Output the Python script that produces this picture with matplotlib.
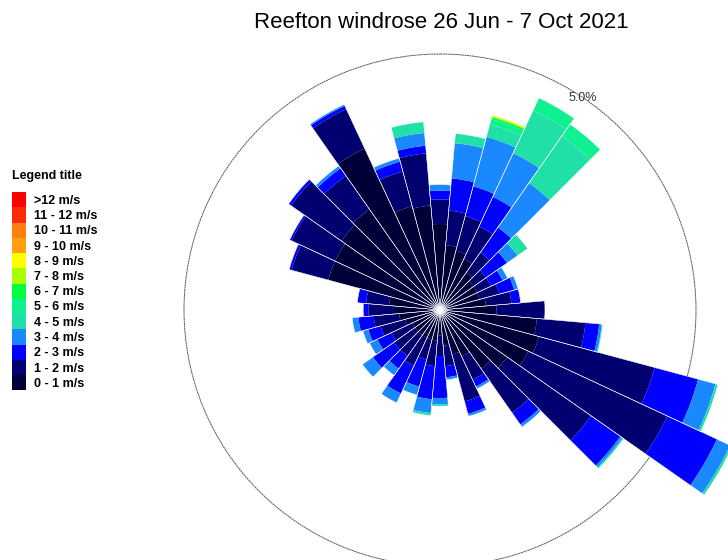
import numpy as np
import matplotlib
matplotlib.use('Agg')
import matplotlib.pyplot as plt
from matplotlib.patches import Patch

plt.rcParams['font.family'] = ['Liberation Sans', 'DejaVu Sans']

# wind directions (deg, from north, clockwise), 10 degree sectors
directions = np.arange(0, 360, 10)

# frequency (% of time) in each speed bin, per direction
s0_1 = [1.68, 1.27, 1.20, 1.10, 0.90, 0.80, 0.80, 0.80, 0.90, 1.10, 1.90, 2.00,
        1.90, 1.60, 1.40, 1.00, 0.90, 0.70, 0.50, 0.60, 0.60, 0.60, 0.60, 0.60,
        0.60, 0.70, 0.80, 0.90, 1.00, 2.26, 2.26, 2.35, 2.40, 3.48, 2.10, 2.05]
s1_2 = [0.48, 0.68, 0.70, 0.70, 0.47, 0.30, 0.30, 0.40, 0.50, 0.95, 0.95, 2.34,
        3.00, 2.00, 1.05, 0.50, 0.95, 0.40, 0.40, 0.50, 0.40, 0.60, 0.50, 0.50,
        0.45, 0.50, 0.50, 0.50, 0.45, 0.74, 0.94, 1.20, 0.80, 0.85, 0.70, 1.02]
s2_3 = [0.17, 0.63, 0.60, 0.64, 0.60, 0.50, 0.25, 0.30, 0.18, 0.00, 0.27, 0.88,
        1.07, 0.70, 0.28, 0.15, 0.25, 0.22, 0.82, 0.65, 0.55, 0.60, 0.30, 0.50,
        0.30, 0.25, 0.30, 0.10, 0.17, 0.05, 0.04, 0.06, 0.18, 0.07, 0.20, 0.15]
s3_4 = [0.12, 0.69, 1.00, 0.94, 1.06, 0.25, 0.11, 0.08, 0.00, 0.00, 0.05, 0.35,
        0.28, 0.05, 0.06, 0.05, 0.05, 0.05, 0.12, 0.27, 0.17, 0.20, 0.16, 0.25,
        0.17, 0.11, 0.12, 0.00, 0.00, 0.00, 0.00, 0.00, 0.06, 0.03, 0.07, 0.25]
s4_5 = [0.00, 0.19, 0.25, 0.92, 1.12, 0.24, 0.00, 0.00, 0.00, 0.00, 0.02, 0.05,
        0.05, 0.03, 0.00, 0.00, 0.00, 0.00, 0.04, 0.05, 0.00, 0.00, 0.00, 0.00,
        0.00, 0.00, 0.00, 0.00, 0.00, 0.00, 0.00, 0.00, 0.00, 0.00, 0.00, 0.22]
s5_6 = [0, 0, 0.11, 0.27, 0.28] + [0] * 31
s6_7 = [0, 0, 0.04] + [0] * 33
s7_8 = [0, 0, 0.02] + [0] * 33
s8_9 = [0, 0, 0.02] + [0] * 33

speed_bins = [s0_1, s1_2, s2_3, s3_4, s4_5, s5_6, s6_7, s7_8, s8_9]

# legend, top to bottom
legend_labels = ['>12 m/s', '11 - 12 m/s', '10 - 11 m/s', '9 - 10 m/s',
                 '8 - 9 m/s', '7 - 8 m/s', '6 - 7 m/s', '5 - 6 m/s',
                 '4 - 5 m/s', '3 - 4 m/s', '2 - 3 m/s', '1 - 2 m/s', '0 - 1 m/s']
legend_colors = ['#ff0000', '#ff2a0a', '#ff7f10', '#ffa010', '#ffff00',
                 '#a8ff00', '#00ff40', '#10f090', '#20e0a8', '#1a88ff',
                 '#0000ff', '#000070', '#000038']
bin_colors = legend_colors[::-1]

fig = plt.figure(figsize=(7.28, 5.6), dpi=100)
ax = fig.add_axes([184 / 728, (560 - 310 - 256) / 560, 512 / 728, 512 / 560],
                  projection='polar')
ax.set_theta_zero_location('N')
ax.set_theta_direction(-1)

theta = np.radians(directions)
bottom = np.zeros(len(directions))
for vals, col in zip(speed_bins, bin_colors):
    vals = np.array(vals)
    ax.bar(theta, vals, width=np.radians(10), bottom=bottom, color=col,
           edgecolor='none', linewidth=0, clip_on=False, zorder=3)
    bottom += vals
# thin white spokes between the sectors
ax.bar(theta, bottom, width=np.radians(10), bottom=0, color='none',
       edgecolor='white', linewidth=0.35, clip_on=False, zorder=4)

ax.set_ylim(0, 5)
ax.grid(False)
ax.set_xticks([])
ax.set_yticks([])
ax.spines['polar'].set_color('#555555')
ax.spines['polar'].set_linewidth(0.7)
ax.spines['polar'].set_linestyle((0, (1, 1.5)))
ax.text(np.radians(34), 5.0, '5.0%', fontsize=9, color='#333333',
        ha='center', va='center', zorder=5)

fig.text(441 / 728, 1 - 22 / 560, 'Reefton windrose 26 Jun - 7 Oct 2021',
         fontsize=16, ha='center', va='center')

fig.text(12 / 728, 1 - 176 / 560, 'Legend title', fontsize=9,
         fontweight='bold', ha='left', va='center')
handles = [Patch(facecolor=c, edgecolor='none') for c in legend_colors]
fig.legend(handles, legend_labels, loc='upper left',
           bbox_to_anchor=(12 / 728, 1 - 192 / 560), frameon=False,
           borderpad=0, borderaxespad=0, handlelength=1.1, handleheight=1.5,
           labelspacing=0, handletextpad=0.7,
           prop={'weight': 'bold', 'size': 9})

fig.savefig('out.png', dpi=100)
